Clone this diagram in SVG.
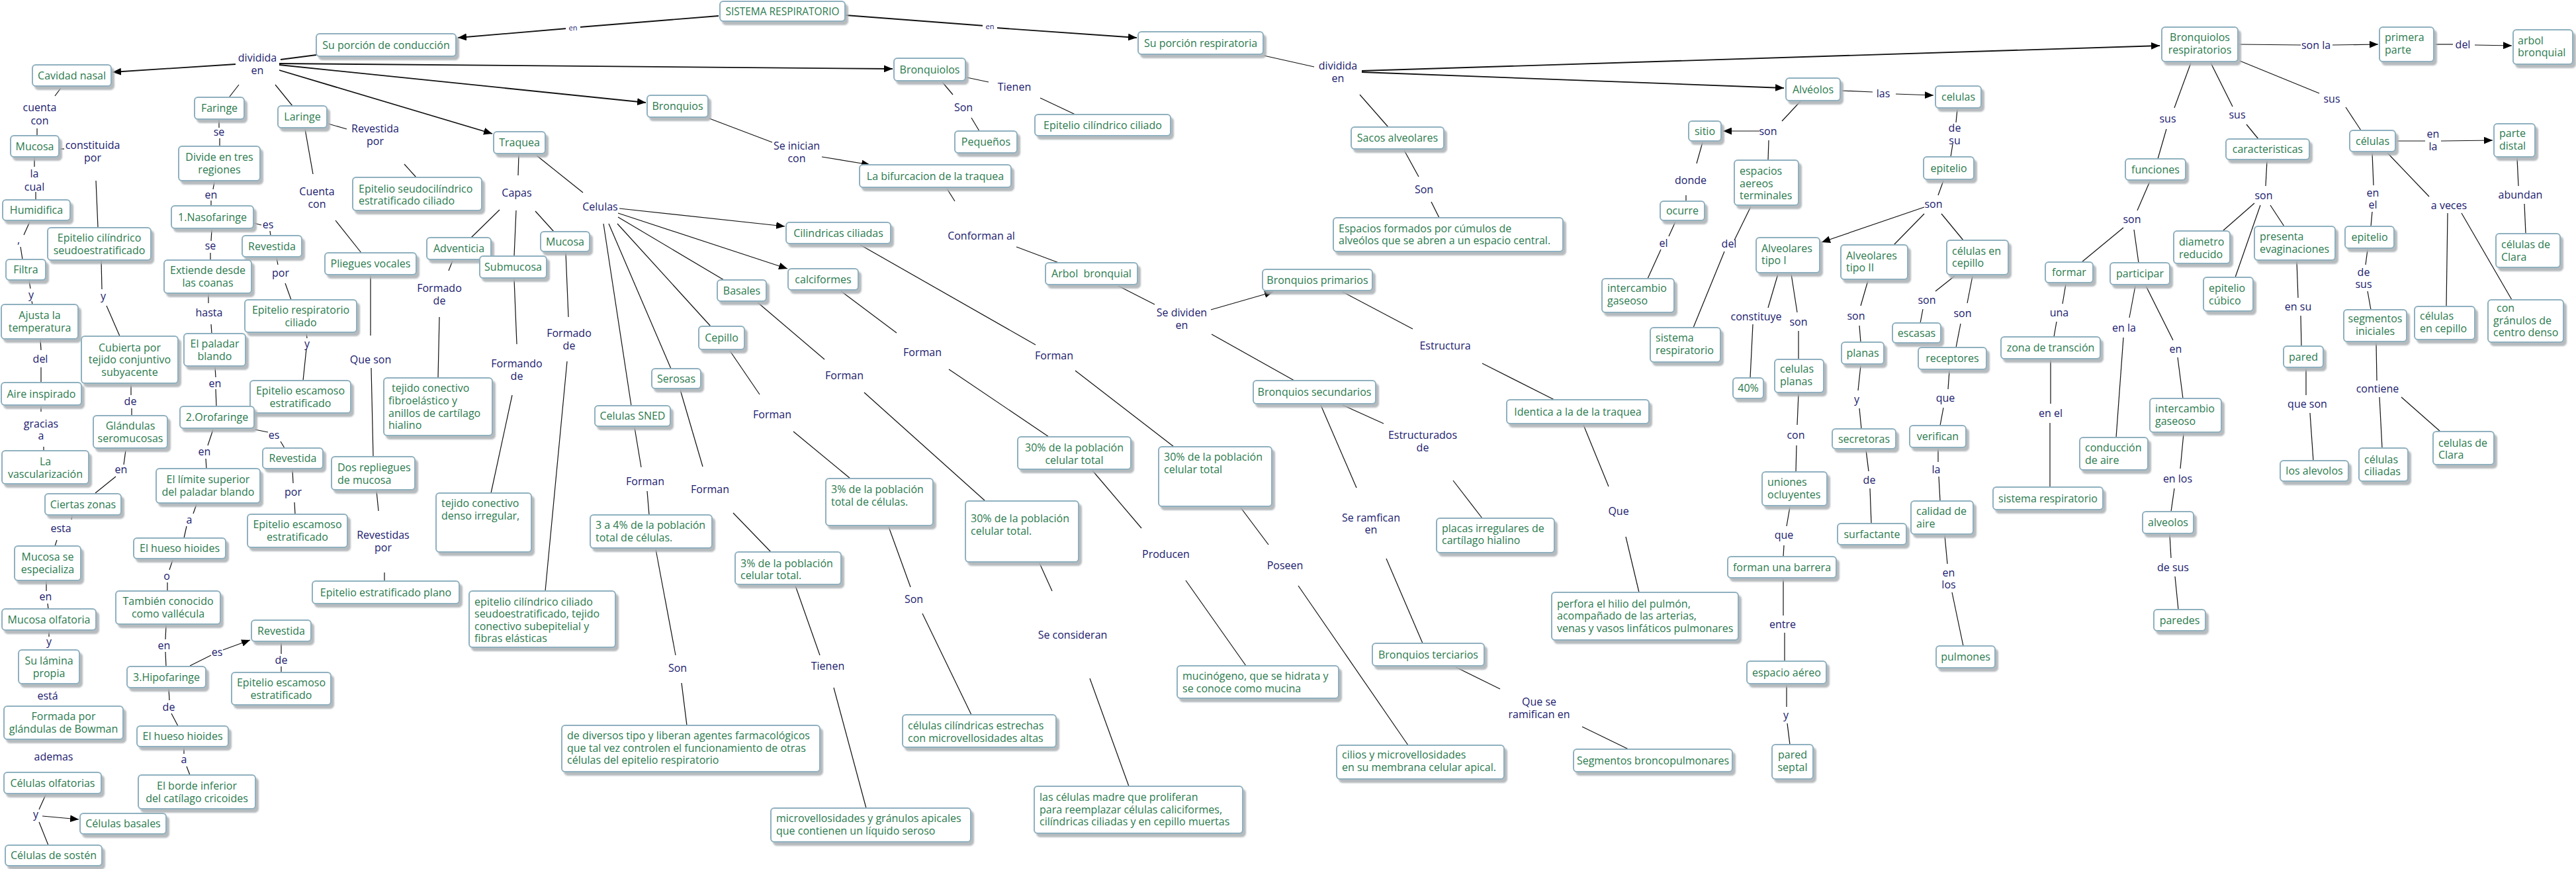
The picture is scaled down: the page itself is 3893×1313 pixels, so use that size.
<svg xmlns="http://www.w3.org/2000/svg" width="3893" height="1313" viewBox="0 0 3893 1313">
<defs>
<filter id="sh" x="-10%" y="-10%" width="130%" height="140%"><feDropShadow dx="4" dy="5" stdDeviation="1.2" flood-color="#aeb3b7" flood-opacity="0.9"/></filter>
<marker id="ar" viewBox="0 0 12 10" refX="12" refY="5" markerWidth="13" markerHeight="11" markerUnits="userSpaceOnUse" orient="auto"><path d="M0,0 L12,5 L0,10 z" fill="#000"/></marker>
</defs>
<style>
.b{fill:#fff;stroke:#8fb0bf;stroke-width:2;filter:url(#sh)}
.t{font-family:"Open Sans","Liberation Sans",sans-serif;font-size:16px;fill:#2b7a4e}
.c{text-anchor:middle}
.l{font-family:"Open Sans","Liberation Sans",sans-serif;font-size:16px;fill:#1a1a6e;text-anchor:middle}
.s{font-size:11px}
#edges line{stroke:#111;stroke-width:1.2;fill:none}
#edges line.a{marker-end:url(#ar)}
#edges line.w{stroke-width:1.8}
</style>
<rect width="3893" height="1313" fill="#fff"/>
<g id="edges">
<line class="w" x1="1086" y1="24" x2="876" y2="41"/><line class="a w" x1="857" y1="43" x2="692" y2="57"/>
<line class="w" x1="1278" y1="23" x2="1488" y2="39"/><line class="a w" x1="1505" y1="42" x2="1718" y2="57"/>
<line class="w" x1="478" y1="83" x2="424" y2="90"/>
<line class="a w" x1="356" y1="97" x2="170" y2="109"/>
<line class="a w" x1="422" y1="96" x2="1349" y2="104"/>
<line class="a w" x1="422" y1="98" x2="976" y2="155"/>
<line class="a w" x1="422" y1="106" x2="744" y2="202"/>
<line x1="361" y1="128" x2="347" y2="146"/><line x1="416" y1="128" x2="442" y2="160"/>
<line x1="92" y1="133" x2="83" y2="145"/><line x1="56" y1="194" x2="56" y2="205"/>
<line x1="89" y1="225" x2="97" y2="225"/><line x1="52" y1="238" x2="52" y2="252"/>
<line x1="54" y1="290" x2="54" y2="302"/><line x1="45" y1="335" x2="36" y2="355"/>
<line x1="31" y1="373" x2="34" y2="392"/><line x1="44" y1="424" x2="46" y2="436"/>
<line x1="48" y1="455" x2="49" y2="460"/><line x1="145" y1="273" x2="148" y2="344"/>
<line x1="153" y1="394" x2="154" y2="437"/><line x1="161" y1="462" x2="181" y2="508"/>
<line x1="61" y1="513" x2="62" y2="529"/><line x1="62" y1="555" x2="62" y2="577"/>
<line x1="62" y1="614" x2="62" y2="622"/><line x1="66" y1="675" x2="66" y2="681"/>
<line x1="198" y1="581" x2="198" y2="597"/><line x1="199" y1="617" x2="199" y2="627"/>
<line x1="190" y1="680" x2="187" y2="702"/><line x1="175" y1="720" x2="144" y2="745"/>
<line x1="109" y1="779" x2="108" y2="785"/><line x1="86" y1="816" x2="83" y2="825"/>
<line x1="70" y1="878" x2="70" y2="893"/><line x1="72" y1="912" x2="73" y2="920"/>
<line x1="74" y1="954" x2="74" y2="962"/><line x1="69" y1="1201" x2="59" y2="1223"/>
<line class="a" x1="64" y1="1233" x2="119" y2="1238"/><line x1="59" y1="1242" x2="73" y2="1277"/>
<line x1="331" y1="181" x2="331" y2="193"/><line x1="332" y1="209" x2="332" y2="221"/>
<line x1="324" y1="275" x2="322" y2="286"/><line x1="319" y1="303" x2="319" y2="311"/>
<line x1="383" y1="337" x2="395" y2="340"/><line x1="408" y1="349" x2="409" y2="356"/>
<line x1="320" y1="347" x2="319" y2="364"/><line x1="318" y1="382" x2="318" y2="393"/>
<line x1="418" y1="390" x2="420" y2="400"/><line x1="431" y1="428" x2="440" y2="453"/>
<line x1="315" y1="444" x2="315" y2="458"/><line x1="319" y1="490" x2="320" y2="504"/>
<line x1="463" y1="504" x2="464" y2="511"/><line x1="463" y1="527" x2="458" y2="575"/>
<line x1="325" y1="555" x2="326" y2="570"/><line x1="326" y1="588" x2="327" y2="614"/>
<line x1="385" y1="649" x2="405" y2="653"/><line x1="424" y1="667" x2="430" y2="677"/>
<line x1="322" y1="649" x2="314" y2="673"/><line x1="311" y1="693" x2="312" y2="708"/>
<line x1="442" y1="710" x2="443" y2="730"/><line x1="445" y1="759" x2="446" y2="777"/>
<line x1="297" y1="762" x2="292" y2="776"/><line x1="282" y1="795" x2="278" y2="813"/>
<line x1="261" y1="846" x2="256" y2="861"/><line x1="253" y1="880" x2="253" y2="893"/>
<line x1="251" y1="945" x2="250" y2="966"/><line x1="250" y1="985" x2="251" y2="1007"/>
<line x1="287" y1="1006" x2="319" y2="990"/><line class="a" x1="337" y1="982" x2="378" y2="967"/>
<line x1="425" y1="971" x2="425" y2="988"/><line x1="425" y1="1007" x2="425" y2="1016"/>
<line x1="255" y1="1041" x2="256" y2="1058"/><line x1="259" y1="1078" x2="269" y2="1097"/>
<line x1="278" y1="1130" x2="278" y2="1139"/><line x1="282" y1="1158" x2="287" y2="1171"/>
<line x1="496" y1="187" x2="524" y2="195"/><line x1="611" y1="248" x2="629" y2="268"/>
<line x1="461" y1="195" x2="473" y2="263"/><line x1="507" y1="333" x2="546" y2="382"/>
<line x1="560" y1="417" x2="560" y2="507"/><line x1="561" y1="556" x2="564" y2="690"/>
<line x1="569" y1="742" x2="572" y2="772"/><line x1="581" y1="865" x2="581" y2="878"/>
<line x1="784" y1="234" x2="783" y2="265"/><line x1="811" y1="235" x2="881" y2="291"/>
<line x1="755" y1="317" x2="712" y2="359"/><line x1="780" y1="318" x2="777" y2="387"/>
<line x1="809" y1="319" x2="837" y2="350"/><line x1="684" y1="394" x2="678" y2="409"/>
<line x1="664" y1="479" x2="662" y2="571"/><line x1="777" y1="422" x2="781" y2="520"/>
<line x1="774" y1="597" x2="742" y2="745"/><line x1="855" y1="382" x2="859" y2="479"/>
<line x1="857" y1="546" x2="824" y2="893"/>
<line class="a" x1="936" y1="315" x2="1186" y2="342"/><line class="a" x1="934" y1="322" x2="1190" y2="406"/>
<line x1="934" y1="328" x2="1094" y2="423"/><line x1="933" y1="338" x2="1074" y2="493"/>
<line x1="920" y1="338" x2="1014" y2="557"/><line x1="912" y1="338" x2="954" y2="613"/>
<line x1="1145" y1="457" x2="1246" y2="543"/><line x1="1306" y1="593" x2="1489" y2="757"/>
<line x1="1271" y1="440" x2="1355" y2="503"/><line x1="1434" y1="558" x2="1585" y2="660"/>
<line x1="1300" y1="370" x2="1565" y2="521"/><line x1="1625" y1="560" x2="1774" y2="675"/>
<line x1="1103" y1="530" x2="1148" y2="596"/><line x1="1199" y1="652" x2="1285" y2="723"/>
<line x1="1028" y1="589" x2="1062" y2="705"/><line x1="1108" y1="775" x2="1165" y2="834"/>
<line x1="959" y1="646" x2="969" y2="706"/><line x1="978" y1="742" x2="981" y2="778"/>
<line x1="991" y1="830" x2="1021" y2="990"/><line x1="1030" y1="1032" x2="1038" y2="1096"/>
<line x1="1202" y1="885" x2="1239" y2="990"/><line x1="1260" y1="1039" x2="1309" y2="1221"/>
<line x1="1343" y1="796" x2="1376" y2="887"/><line x1="1394" y1="927" x2="1468" y2="1080"/>
<line x1="1571" y1="851" x2="1590" y2="893"/><line x1="1647" y1="1025" x2="1706" y2="1188"/>
<line x1="1651" y1="711" x2="1725" y2="798"/><line x1="1792" y1="877" x2="1883" y2="1006"/>
<line x1="1875" y1="767" x2="1917" y2="823"/><line x1="1962" y1="885" x2="2128" y2="1126"/>
<line x1="1072" y1="179" x2="1167" y2="215"/><line class="a" x1="1242" y1="237" x2="1315" y2="249"/>
<line x1="1431" y1="285" x2="1443" y2="304"/><line x1="1536" y1="373" x2="1600" y2="397"/>
<line x1="1690" y1="432" x2="1745" y2="460"/><line class="a" x1="1830" y1="468" x2="1924" y2="441"/>
<line x1="1831" y1="505" x2="1956" y2="575"/>
<line x1="2029" y1="441" x2="2135" y2="497"/><line x1="2240" y1="549" x2="2349" y2="604"/>
<line x1="2393" y1="642" x2="2431" y2="735"/><line x1="2457" y1="811" x2="2477" y2="895"/>
<line x1="2029" y1="612" x2="2091" y2="640"/><line x1="2196" y1="726" x2="2240" y2="783"/>
<line x1="1996" y1="612" x2="2050" y2="737"/><line x1="2095" y1="844" x2="2150" y2="972"/>
<line x1="2200" y1="1008" x2="2267" y2="1041"/><line x1="2391" y1="1098" x2="2461" y2="1132"/>
<line x1="1461" y1="117" x2="1494" y2="124"/><line x1="1572" y1="148" x2="1625" y2="173"/>
<line x1="1424" y1="124" x2="1440" y2="143"/><line x1="1468" y1="178" x2="1480" y2="198"/>
<line x1="1910" y1="84" x2="1986" y2="101"/>
<line class="a w" x1="2058" y1="107" x2="3264" y2="69"/>
<line class="a w" x1="2058" y1="109" x2="2696" y2="133"/>
<line x1="2055" y1="143" x2="2098" y2="192"/><line x1="2122" y1="227" x2="2144" y2="267"/>
<line x1="2163" y1="305" x2="2175" y2="329"/>
<line x1="2783" y1="137" x2="2830" y2="139"/><line class="a" x1="2865" y1="142" x2="2922" y2="144"/>
<line x1="2721" y1="153" x2="2693" y2="183"/><line class="a" x1="2659" y1="198" x2="2604" y2="198"/>
<line x1="2673" y1="212" x2="2672" y2="242"/><line x1="2573" y1="215" x2="2564" y2="247"/>
<line x1="2548" y1="295" x2="2548" y2="304"/><line x1="2532" y1="335" x2="2522" y2="357"/>
<line x1="2510" y1="377" x2="2490" y2="421"/><line x1="2646" y1="312" x2="2621" y2="363"/>
<line x1="2606" y1="380" x2="2559" y2="495"/>
<line x1="2958" y1="165" x2="2956" y2="185"/><line x1="2951" y1="218" x2="2948" y2="237"/>
<line x1="2937" y1="273" x2="2929" y2="295"/><line class="a" x1="2908" y1="313" x2="2753" y2="366"/>
<line x1="2908" y1="323" x2="2862" y2="370"/><line x1="2934" y1="323" x2="2967" y2="363"/>
<line x1="2687" y1="414" x2="2672" y2="465"/><line x1="2649" y1="490" x2="2645" y2="571"/>
<line x1="2707" y1="414" x2="2716" y2="472"/><line x1="2718" y1="500" x2="2718" y2="543"/>
<line x1="2718" y1="595" x2="2716" y2="642"/><line x1="2715" y1="673" x2="2714" y2="713"/>
<line x1="2705" y1="766" x2="2700" y2="795"/><line x1="2696" y1="824" x2="2695" y2="841"/>
<line x1="2695" y1="875" x2="2695" y2="930"/><line x1="2697" y1="956" x2="2697" y2="999"/>
<line x1="2700" y1="1035" x2="2700" y2="1068"/><line x1="2701" y1="1093" x2="2705" y2="1125"/>
<line x1="2823" y1="424" x2="2812" y2="462"/><line x1="2810" y1="492" x2="2812" y2="517"/>
<line x1="2812" y1="552" x2="2808" y2="590"/><line x1="2810" y1="617" x2="2813" y2="648"/>
<line x1="2820" y1="680" x2="2824" y2="712"/><line x1="2826" y1="738" x2="2828" y2="791"/>
<line x1="2954" y1="417" x2="2925" y2="440"/><line x1="2906" y1="467" x2="2902" y2="488"/>
<line x1="2981" y1="417" x2="2973" y2="458"/><line x1="2963" y1="489" x2="2956" y2="525"/>
<line x1="2946" y1="560" x2="2944" y2="588"/><line x1="2937" y1="616" x2="2932" y2="643"/>
<line x1="2929" y1="678" x2="2929" y2="698"/><line x1="2930" y1="720" x2="2932" y2="757"/>
<line x1="2939" y1="809" x2="2943" y2="852"/><line x1="2950" y1="895" x2="2967" y2="976"/>
<line x1="3384" y1="67" x2="3477" y2="68"/><line class="a" x1="3525" y1="68" x2="3594" y2="67"/>
<line x1="3680" y1="67" x2="3707" y2="67"/><line class="a" x1="3740" y1="68" x2="3796" y2="69"/>
<line x1="3311" y1="95" x2="3286" y2="163"/><line x1="3274" y1="195" x2="3261" y2="240"/>
<line x1="3249" y1="274" x2="3230" y2="318"/><line x1="3209" y1="344" x2="3146" y2="396"/>
<line x1="3225" y1="347" x2="3232" y2="397"/><line x1="3122" y1="429" x2="3117" y2="459"/>
<line x1="3108" y1="486" x2="3104" y2="509"/><line x1="3099" y1="544" x2="3099" y2="610"/>
<line x1="3098" y1="639" x2="3098" y2="736"/><line x1="3227" y1="432" x2="3218" y2="480"/>
<line x1="3209" y1="510" x2="3198" y2="661"/><line x1="3243" y1="432" x2="3284" y2="514"/>
<line x1="3291" y1="540" x2="3299" y2="602"/><line x1="3300" y1="655" x2="3295" y2="708"/>
<line x1="3286" y1="738" x2="3281" y2="773"/><line x1="3279" y1="808" x2="3281" y2="843"/>
<line x1="3287" y1="871" x2="3292" y2="921"/>
<line x1="3341" y1="95" x2="3374" y2="161"/><line x1="3395" y1="188" x2="3413" y2="210"/>
<line x1="3426" y1="243" x2="3424" y2="281"/><line x1="3407" y1="307" x2="3359" y2="349"/>
<line x1="3416" y1="310" x2="3378" y2="419"/><line x1="3431" y1="310" x2="3452" y2="342"/>
<line x1="3471" y1="395" x2="3473" y2="450"/><line x1="3477" y1="477" x2="3478" y2="523"/>
<line x1="3485" y1="557" x2="3485" y2="597"/><line x1="3491" y1="624" x2="3496" y2="696"/>
<line x1="3385" y1="92" x2="3505" y2="141"/><line x1="3545" y1="162" x2="3568" y2="197"/>
<line x1="3622" y1="213" x2="3665" y2="213"/><line class="a" x1="3689" y1="213" x2="3767" y2="212"/>
<line x1="3804" y1="239" x2="3806" y2="281"/><line x1="3815" y1="308" x2="3817" y2="353"/>
<line x1="3585" y1="231" x2="3587" y2="280"/><line x1="3585" y1="320" x2="3583" y2="342"/>
<line x1="3578" y1="377" x2="3575" y2="400"/><line x1="3578" y1="440" x2="3583" y2="468"/>
<line x1="3591" y1="518" x2="3592" y2="575"/><line x1="3596" y1="600" x2="3600" y2="677"/>
<line x1="3629" y1="600" x2="3688" y2="652"/>
<line x1="3608" y1="231" x2="3671" y2="297"/><line x1="3699" y1="322" x2="3697" y2="463"/>
<line x1="3720" y1="322" x2="3796" y2="453"/>
</g>
<g id="links">
<rect x="855" y="34" width="22" height="14" fill="#fff"/><text class="l s" x="866" y="46">en</text>
<rect x="1485" y="33" width="22" height="14" fill="#fff"/><text class="l s" x="1496" y="44">en</text>
<text class="l" x="389" y="92.5">dividida<tspan x="389" y="111.5">en</tspan></text>
<text class="l" x="2022" y="104.5">dividida<tspan x="2022" y="123.5">en</tspan></text>
<text class="l" x="60" y="167.5">cuenta<tspan x="60" y="187.5">con</tspan></text>
<text class="l" x="140" y="224.5">constituida<tspan x="140" y="243.5">por</tspan></text>
<text class="l" x="52" y="267.5">la<tspan x="52" y="287.5">cual</tspan></text>
<text class="l" x="28" y="368">,</text>
<text class="l" x="47" y="450.5">y</text>
<text class="l" x="156" y="452.5">y</text>
<text class="l" x="61" y="547.5">del</text>
<text class="l" x="62" y="645.5">gracias<tspan x="62" y="663.5">a</tspan></text>
<text class="l" x="197" y="611.5">de</text>
<text class="l" x="183" y="714.5">en</text>
<text class="l" x="92" y="803.5">esta</text>
<text class="l" x="69" y="906.5">en</text>
<text class="l" x="74" y="974.5">y</text>
<text class="l" x="72" y="1056.5">está</text>
<text class="l" x="81" y="1148.5">ademas</text>
<text class="l" x="54" y="1235.5">y</text>
<text class="l" x="331" y="204.5">se</text>
<text class="l" x="319" y="299.5">en</text>
<text class="l" x="405" y="344.5">es</text>
<text class="l" x="318" y="376.5">se</text>
<text class="l" x="424" y="417.5">por</text>
<text class="l" x="316" y="477.5">hasta</text>
<text class="l" x="464" y="524.5">y</text>
<text class="l" x="325" y="584.5">en</text>
<text class="l" x="414" y="662.5">es</text>
<text class="l" x="309" y="687.5">en</text>
<text class="l" x="443" y="748.5">por</text>
<text class="l" x="286" y="790.5">a</text>
<text class="l" x="252" y="875.5">o</text>
<text class="l" x="248" y="980.5">en</text>
<text class="l" x="328" y="990.5">es</text>
<text class="l" x="425" y="1002.5">de</text>
<text class="l" x="255" y="1073.5">de</text>
<text class="l" x="278" y="1152.5">a</text>
<text class="l" x="567" y="199.5">Revestida<tspan x="567" y="218.5">por</tspan></text>
<text class="l" x="479" y="294.5">Cuenta<tspan x="479" y="313.5">con</tspan></text>
<text class="l" x="560" y="548.5">Que son</text>
<text class="l" x="579" y="813.5">Revestidas<tspan x="579" y="832.5">por</tspan></text>
<text class="l" x="781" y="296.5">Capas</text>
<text class="l" x="907" y="317.5">Celulas</text>
<text class="l" x="664" y="440.5">Formado<tspan x="664" y="459.5">de</tspan></text>
<text class="l" x="781" y="554.5">Formando<tspan x="781" y="573.5">de</tspan></text>
<text class="l" x="860" y="508.5">Formado<tspan x="860" y="527.5">de</tspan></text>
<text class="l" x="975" y="732.5">Forman</text>
<text class="l" x="1073" y="744.5">Forman</text>
<text class="l" x="1167" y="631.5">Forman</text>
<text class="l" x="1276" y="572.5">Forman</text>
<text class="l" x="1394" y="537.5">Forman</text>
<text class="l" x="1593" y="542.5">Forman</text>
<text class="l" x="1024" y="1014.5">Son</text>
<text class="l" x="1251" y="1011.5">Tienen</text>
<text class="l" x="1381" y="910.5">Son</text>
<text class="l" x="1621" y="964.5">Se consideran</text>
<text class="l" x="1762" y="842.5">Producen</text>
<text class="l" x="1942" y="859.5">Poseen</text>
<text class="l" x="1533" y="136.5">Tienen</text>
<text class="l" x="1456" y="167.5">Son</text>
<text class="l" x="1204" y="225.5">Se inician<tspan x="1204" y="244.5">con</tspan></text>
<text class="l" x="1483" y="361.5">Conforman al</text>
<text class="l" x="1786" y="477.5">Se dividen<tspan x="1786" y="496.5">en</tspan></text>
<text class="l" x="2184" y="527.5">Estructura</text>
<text class="l" x="2150" y="662.5">Estructurados<tspan x="2150" y="681.5">de</tspan></text>
<text class="l" x="2072" y="787.5">Se ramfican<tspan x="2072" y="805.5">en</tspan></text>
<text class="l" x="2446" y="777.5">Que</text>
<text class="l" x="2326" y="1065.5">Que se<tspan x="2326" y="1084.5">ramifican en</tspan></text>
<text class="l" x="2152" y="291.5">Son</text>
<text class="l" x="2846" y="146.5">las</text>
<text class="l" x="2672" y="203.5">son</text>
<text class="l" x="2555" y="277.5">donde</text>
<text class="l" x="2514" y="372.5">el</text>
<text class="l" x="2613" y="373.5">del</text>
<text class="l" x="2954" y="198.5">de<tspan x="2954" y="217.5">su</tspan></text>
<text class="l" x="2922" y="313.5">son</text>
<text class="l" x="2654" y="483.5">constituye</text>
<text class="l" x="2718" y="491.5">son</text>
<text class="l" x="2714" y="662.5">con</text>
<text class="l" x="2696" y="813.5">que</text>
<text class="l" x="2694" y="948.5">entre</text>
<text class="l" x="2699" y="1085.5">y</text>
<text class="l" x="2805" y="482.5">son</text>
<text class="l" x="2806" y="608.5">y</text>
<text class="l" x="2825" y="730.5">de</text>
<text class="l" x="2912" y="458.5">son</text>
<text class="l" x="2966" y="478.5">son</text>
<text class="l" x="2940" y="606.5">que</text>
<text class="l" x="2926" y="714.5">la</text>
<text class="l" x="2945" y="870.5">en<tspan x="2945" y="888.5">los</tspan></text>
<text class="l" x="3500" y="73.5">son la</text>
<text class="l" x="3722" y="72.5">del</text>
<text class="l" x="3276" y="184.5">sus</text>
<text class="l" x="3381" y="178.5">sus</text>
<text class="l" x="3524" y="154.5">sus</text>
<text class="l" x="3222" y="336.5">son</text>
<text class="l" x="3421" y="300.5">son</text>
<text class="l" x="3677" y="207.5">en<tspan x="3677" y="226.5">la</tspan></text>
<text class="l" x="3809" y="299.5">abundan</text>
<text class="l" x="3586" y="296.5">en<tspan x="3586" y="314.5">el</tspan></text>
<text class="l" x="3701" y="315.5">a veces</text>
<text class="l" x="3572" y="416.5">de<tspan x="3572" y="434.5">sus</tspan></text>
<text class="l" x="3112" y="477.5">una</text>
<text class="l" x="3099" y="629.5">en el</text>
<text class="l" x="3210" y="500.5">en la</text>
<text class="l" x="3288" y="532.5">en</text>
<text class="l" x="3291" y="728.5">en los</text>
<text class="l" x="3284" y="862.5">de sus</text>
<text class="l" x="3473" y="468.5">en su</text>
<text class="l" x="3487" y="615.5">que son</text>
<text class="l" x="3593" y="592.5">contiene</text>
</g>
<g id="n01"><rect class="b" x="1088" y="2" width="189" height="30" rx="5"/><text class="t c" x="1182.5" y="22.5" textLength="172" lengthAdjust="spacingAndGlyphs">SISTEMA RESPIRATORIO</text></g>
<g id="n02"><rect class="b" x="478" y="51" width="211" height="34" rx="5"/><text class="t c" x="583.5" y="73.5">Su porción de conducción</text></g>
<g id="n03"><rect class="b" x="1720" y="48" width="189" height="34" rx="5"/><text class="t c" x="1814.5" y="70.5">Su porción respiratoria</text></g>
<g id="n04"><rect class="b" x="49" y="98" width="119" height="32" rx="5"/><text class="t c" x="108.5" y="119.5">Cavidad nasal</text></g>
<g id="n05"><rect class="b" x="294" y="147" width="75" height="33" rx="5"/><text class="t c" x="331.5" y="169">Faringe</text></g>
<g id="n06"><rect class="b" x="420" y="160" width="74" height="33" rx="5"/><text class="t c" x="457" y="182">Laringe</text></g>
<g id="n07"><rect class="b" x="746" y="199" width="78" height="33" rx="5"/><text class="t c" x="785" y="221">Traquea</text></g>
<g id="n08"><rect class="b" x="978" y="144" width="92" height="33" rx="5"/><text class="t c" x="1024" y="166">Bronquios</text></g>
<g id="n09"><rect class="b" x="1351" y="88" width="108" height="34" rx="5"/><text class="t c" x="1405" y="110.5">Bronquiolos</text></g>
<g id="n10"><rect class="b" x="16" y="205" width="73" height="32" rx="5"/><text class="t c" x="52.5" y="226.5">Mucosa</text></g>
<g id="n11"><rect class="b" x="4" y="302" width="102" height="31" rx="5"/><text class="t c" x="55" y="323">Humidifica</text></g>
<g id="n12"><rect class="b" x="9" y="392" width="60" height="31" rx="5"/><text class="t c" x="39" y="413">Filtra</text></g>
<g id="n13"><rect class="b" x="72" y="344" width="156" height="49" rx="5"/><text class="t c" x="150" y="365">Epitelio cilíndrico<tspan x="150" y="384">seudoestratificado</tspan></text></g>
<g id="n14"><rect class="b" x="2" y="460" width="116" height="52" rx="5"/><text class="t c" x="60" y="481.5">Ajusta la<tspan x="60" y="500.5">temperatura</tspan></text></g>
<g id="n15"><rect class="b" x="123" y="508" width="146" height="71" rx="5"/><text class="t c" x="196" y="530.5">Cubierta por<tspan x="196" y="549">tejido conjuntivo</tspan><tspan x="196" y="567.5">subyacente</tspan></text></g>
<g id="n16"><rect class="b" x="2" y="578" width="121" height="34" rx="5"/><text class="t c" x="62.5" y="600.5">Aire inspirado</text></g>
<g id="n17"><rect class="b" x="3" y="681" width="131" height="50" rx="5"/><text class="t c" x="68.5" y="702.5">La<tspan x="68.5" y="721.5">vascularización</tspan></text></g>
<g id="n18"><rect class="b" x="141" y="628" width="112" height="49" rx="5"/><text class="t c" x="197" y="648.5">Glándulas<tspan x="197" y="667.5">seromucosas</tspan></text></g>
<g id="n19"><rect class="b" x="68" y="746" width="115" height="32" rx="5"/><text class="t c" x="125.5" y="767.5">Ciertas zonas</text></g>
<g id="n20"><rect class="b" x="22" y="825" width="100" height="52" rx="5"/><text class="t c" x="72" y="847">Mucosa se<tspan x="72" y="866">especializa</tspan></text></g>
<g id="n21"><rect class="b" x="3" y="920" width="142" height="32" rx="5"/><text class="t c" x="74" y="941.5">Mucosa olfatoria</text></g>
<g id="n22"><rect class="b" x="28" y="982" width="92" height="51" rx="5"/><text class="t c" x="74" y="1003.5">Su lámina<tspan x="74" y="1022.5">propia</tspan></text></g>
<g id="n23"><rect class="b" x="6" y="1067" width="180" height="50" rx="5"/><text class="t c" x="96" y="1088">Formada por<tspan x="96" y="1107">glándulas de Bowman</tspan></text></g>
<g id="n24"><rect class="b" x="6" y="1167" width="147" height="32" rx="5"/><text class="t c" x="79.5" y="1188.5">Células olfatorias</text></g>
<g id="n25"><rect class="b" x="121" y="1229" width="130" height="31" rx="5"/><text class="t c" x="186" y="1250">Células basales</text></g>
<g id="n26"><rect class="b" x="8" y="1277" width="146" height="31" rx="5"/><text class="t c" x="81" y="1298">Células de sostén</text></g>
<g id="n27"><rect class="b" x="270" y="221" width="123" height="52" rx="5"/><text class="t c" x="331.5" y="242.5">Divide en tres<tspan x="331.5" y="261.5">regiones</tspan></text></g>
<g id="n28"><rect class="b" x="259" y="311" width="124" height="34" rx="5"/><text class="t c" x="321" y="333.5">1.Nasofaringe</text></g>
<g id="n29"><rect class="b" x="366" y="356" width="90" height="32" rx="5"/><text class="t c" x="411" y="377.5">Revestida</text></g>
<g id="n30"><rect class="b" x="248" y="393" width="132" height="50" rx="5"/><text class="t c" x="314" y="414">Extiende desde<tspan x="314" y="433">las coanas</tspan></text></g>
<g id="n31"><rect class="b" x="370" y="453" width="169" height="49" rx="5"/><text class="t c" x="454.5" y="473.5">Epitelio respiratorio<tspan x="454.5" y="492.5">ciliado</tspan></text></g>
<g id="n32"><rect class="b" x="278" y="504" width="93" height="49" rx="5"/><text class="t c" x="324.5" y="524.5">El paladar<tspan x="324.5" y="543.5">blando</tspan></text></g>
<g id="n33"><rect class="b" x="378" y="575" width="152" height="49" rx="5"/><text class="t c" x="454" y="595.5">Epitelio escamoso<tspan x="454" y="614.5">estratificado</tspan></text></g>
<g id="n34"><rect class="b" x="272" y="614" width="112" height="33" rx="5"/><text class="t c" x="328" y="636">2.Orofaringe</text></g>
<g id="n35"><rect class="b" x="397" y="677" width="91" height="31" rx="5"/><text class="t c" x="442.5" y="698">Revestida</text></g>
<g id="n36"><rect class="b" x="236" y="708" width="157" height="52" rx="5"/><text class="t c" x="314.5" y="730">El límite superior<tspan x="314.5" y="749">del paladar blando</tspan></text></g>
<g id="n37"><rect class="b" x="374" y="777" width="151" height="50" rx="5"/><text class="t c" x="449.5" y="798">Epitelio escamoso<tspan x="449.5" y="817">estratificado</tspan></text></g>
<g id="n38"><rect class="b" x="202" y="813" width="139" height="31" rx="5"/><text class="t c" x="271.5" y="834">El hueso hioides</text></g>
<g id="n39"><rect class="b" x="175" y="893" width="158" height="50" rx="5"/><text class="t c" x="254" y="914">También conocido<tspan x="254" y="933">como vallécula</tspan></text></g>
<g id="n40"><rect class="b" x="380" y="937" width="90" height="32" rx="5"/><text class="t c" x="425" y="958.5">Revestida</text></g>
<g id="n41"><rect class="b" x="192" y="1007" width="119" height="32" rx="5"/><text class="t c" x="251.5" y="1028.5">3.Hipofaringe</text></g>
<g id="n42"><rect class="b" x="350" y="1016" width="150" height="49" rx="5"/><text class="t c" x="425" y="1036.5">Epitelio escamoso<tspan x="425" y="1055.5">estratificado</tspan></text></g>
<g id="n43"><rect class="b" x="207" y="1097" width="138" height="31" rx="5"/><text class="t c" x="276" y="1118">El hueso hioides</text></g>
<g id="n44"><rect class="b" x="209" y="1171" width="177" height="51" rx="5"/><text class="t c" x="297.5" y="1192.5">El borde inferior<tspan x="297.5" y="1211.5">del catílago cricoides</tspan></text></g>
<g id="n45"><rect class="b" x="533" y="268" width="195" height="50" rx="5"/><text class="t" x="542" y="290.5">Epitelio seudocilíndrico<tspan x="542" y="309">estratificado ciliado</tspan></text></g>
<g id="n46"><rect class="b" x="491" y="382" width="138" height="33" rx="5"/><text class="t c" x="560" y="404">Pliegues vocales</text></g>
<g id="n47"><rect class="b" x="501" y="690" width="126" height="50" rx="5"/><text class="t" x="510" y="712">Dos repliegues<tspan x="510" y="730.5">de mucosa</tspan></text></g>
<g id="n48"><rect class="b" x="472" y="878" width="222" height="34" rx="5"/><text class="t c" x="583" y="900.5">Epitelio estratificado plano</text></g>
<g id="n49"><rect class="b" x="645" y="359" width="97" height="33" rx="5"/><text class="t c" x="693.5" y="381">Adventicia</text></g>
<g id="n50"><rect class="b" x="725" y="387" width="101" height="33" rx="5"/><text class="t c" x="775.5" y="409">Submucosa</text></g>
<g id="n51"><rect class="b" x="817" y="350" width="74" height="30" rx="5"/><text class="t c" x="854" y="370.5">Mucosa</text></g>
<g id="n52"><rect class="b" x="580" y="571" width="164" height="87" rx="5"/><text class="t" x="592" y="592">tejido conectivo<tspan x="587" y="611">fibroelástico y</tspan><tspan x="587" y="629.5">anillos de cartílago</tspan><tspan x="587" y="648">hialino</tspan></text></g>
<g id="n53"><rect class="b" x="659" y="745" width="144" height="89" rx="5"/><text class="t" x="667" y="766">tejido conectivo<tspan x="667" y="785">denso irregular,</tspan></text></g>
<g id="n54"><rect class="b" x="709" y="893" width="221" height="85" rx="5"/><text class="t" x="717" y="914.5">epitelio cilíndrico ciliado<tspan x="717" y="933">seudoestratificado,  tejido</tspan><tspan x="717" y="951.5">conectivo subepitelial y</tspan><tspan x="717" y="970">fibras elásticas</tspan></text></g>
<g id="n55"><rect class="b" x="1188" y="336" width="158" height="32" rx="5"/><text class="t c" x="1267" y="357.5">Cilindricas ciliadas</text></g>
<g id="n56"><rect class="b" x="1191" y="406" width="106" height="32" rx="5"/><text class="t c" x="1244" y="427.5">calciformes</text></g>
<g id="n57"><rect class="b" x="1084" y="423" width="74" height="32" rx="5"/><text class="t c" x="1121" y="444.5">Basales</text></g>
<g id="n58"><rect class="b" x="1056" y="493" width="69" height="35" rx="5"/><text class="t c" x="1090.5" y="516">Cepillo</text></g>
<g id="n59"><rect class="b" x="985" y="557" width="74" height="30" rx="5"/><text class="t c" x="1022" y="577.5">Serosas</text></g>
<g id="n60"><rect class="b" x="899" y="613" width="114" height="31" rx="5"/><text class="t c" x="956" y="634">Celulas SNED</text></g>
<g id="n61"><rect class="b" x="892" y="778" width="184" height="50" rx="5"/><text class="t" x="900" y="799">3 a 4% de la población<tspan x="900" y="818">total de células.</tspan></text></g>
<g id="n62"><rect class="b" x="1111" y="834" width="160" height="49" rx="5"/><text class="t" x="1119" y="856.5">3% de la población<tspan x="1119" y="875">celular total.</tspan></text></g>
<g id="n63"><rect class="b" x="1248" y="723" width="162" height="71" rx="5"/><text class="t" x="1256" y="745">3% de la población<tspan x="1256" y="764">total de células.</tspan></text></g>
<g id="n64"><rect class="b" x="1459" y="757" width="171" height="92" rx="5"/><text class="t" x="1467" y="789">30% de la población<tspan x="1467" y="808">celular total.</tspan></text></g>
<g id="n65"><rect class="b" x="1538" y="660" width="171" height="49" rx="5"/><text class="t c" x="1623.5" y="682">30% de la población<tspan x="1623.5" y="701">celular total</tspan></text></g>
<g id="n66"><rect class="b" x="1751" y="675" width="171" height="90" rx="5"/><text class="t" x="1759" y="696">30% de la población<tspan x="1759" y="715">celular total</tspan></text></g>
<g id="n67"><rect class="b" x="849" y="1096" width="390" height="70" rx="5"/><text class="t" x="857" y="1117">de diversos tipo y liberan agentes farmacológicos<tspan x="857" y="1135.5">que tal vez controlen el funcionamiento de otras</tspan><tspan x="857" y="1154">células del epitelio respiratorio</tspan></text></g>
<g id="n68"><rect class="b" x="1165" y="1221" width="302" height="51" rx="5"/><text class="t" x="1173" y="1242">microvellosidades y gránulos apicales<tspan x="1173" y="1261">que contienen un líquido seroso</tspan></text></g>
<g id="n69"><rect class="b" x="1364" y="1080" width="232" height="49" rx="5"/><text class="t" x="1372" y="1102">células cilíndricas estrechas<tspan x="1372" y="1120.5">con microvellosidades altas</tspan></text></g>
<g id="n70"><rect class="b" x="1563" y="1188" width="315" height="71" rx="5"/><text class="t" x="1571" y="1209.5">las células madre que proliferan<tspan x="1571" y="1228.5">para reemplazar  células caliciformes,</tspan><tspan x="1571" y="1247">cilíndricas ciliadas y en  cepillo muertas</tspan></text></g>
<g id="n71"><rect class="b" x="1779" y="1006" width="244" height="49" rx="5"/><text class="t" x="1787" y="1027">mucinógeno, que se hidrata y<tspan x="1787" y="1046">se conoce como mucina</tspan></text></g>
<g id="n72"><rect class="b" x="1443" y="198" width="94" height="33" rx="5"/><text class="t c" x="1490" y="220">Pequeños</text></g>
<g id="n73"><rect class="b" x="1564" y="173" width="205" height="32" rx="5"/><text class="t c" x="1666.5" y="194.5">Epitelio cilíndrico ciliado</text></g>
<g id="n74"><rect class="b" x="1299" y="249" width="229" height="34" rx="5"/><text class="t c" x="1413.5" y="271.5">La bifurcacion de la traquea</text></g>
<g id="n75"><rect class="b" x="1580" y="397" width="139" height="33" rx="5"/><text class="t c" x="1649.5" y="419">Arbol&#160; bronquial</text></g>
<g id="n76"><rect class="b" x="1908" y="407" width="166" height="32" rx="5"/><text class="t c" x="1991" y="428.5">Bronquios primarios</text></g>
<g id="n77"><rect class="b" x="1894" y="575" width="185" height="35" rx="5"/><text class="t c" x="1986.5" y="598">Bronquios secundarios</text></g>
<g id="n78"><rect class="b" x="2277" y="604" width="215" height="36" rx="5"/><text class="t c" x="2384.5" y="627.5">Identica a la de la traquea</text></g>
<g id="n79"><rect class="b" x="2171" y="783" width="178" height="52" rx="5"/><text class="t" x="2179" y="804">placas irregulares de<tspan x="2179" y="822">cartílago hialino</tspan></text></g>
<g id="n80"><rect class="b" x="2345" y="895" width="282" height="72" rx="5"/><text class="t" x="2353" y="918">perfora el hilio del pulmón,<tspan x="2353" y="936">acompañado de las arterias,</tspan><tspan x="2353" y="954.5">venas y vasos linfáticos pulmonares</tspan></text></g>
<g id="n81"><rect class="b" x="2074" y="972" width="169" height="34" rx="5"/><text class="t c" x="2158.5" y="994.5">Bronquios terciarios</text></g>
<g id="n82"><rect class="b" x="2020" y="1126" width="253" height="51" rx="5"/><text class="t" x="2028" y="1146">cilios y microvellosidades<tspan x="2028" y="1165">en su membrana celular apical.</tspan></text></g>
<g id="n83"><rect class="b" x="2378" y="1132" width="240" height="34" rx="5"/><text class="t c" x="2498" y="1154.5">Segmentos broncopulmonares</text></g>
<g id="n84"><rect class="b" x="2042" y="192" width="140" height="33" rx="5"/><text class="t c" x="2112" y="214">Sacos alveolares</text></g>
<g id="n85"><rect class="b" x="2015" y="329" width="347" height="51" rx="5"/><text class="t" x="2023" y="350.5">Espacios formados por cúmulos de<tspan x="2023" y="369">alveólos que se abren a un espacio central.</tspan></text></g>
<g id="n86"><rect class="b" x="2699" y="118" width="82" height="34" rx="5"/><text class="t c" x="2740" y="140.5">Alvéolos</text></g>
<g id="n87"><rect class="b" x="2925" y="130" width="69" height="33" rx="5"/><text class="t c" x="2959.5" y="152">celulas</text></g>
<g id="n88"><rect class="b" x="2552" y="183" width="49" height="30" rx="5"/><text class="t c" x="2576.5" y="203.5">sitio</text></g>
<g id="n89"><rect class="b" x="2621" y="242" width="97" height="68" rx="5"/><text class="t" x="2629" y="264">espacios<tspan x="2629" y="283">aereos</tspan><tspan x="2629" y="301">terminales</tspan></text></g>
<g id="n90"><rect class="b" x="2509" y="304" width="67" height="29" rx="5"/><text class="t c" x="2542.5" y="324">ocurre</text></g>
<g id="n91"><rect class="b" x="2421" y="421" width="109" height="51" rx="5"/><text class="t" x="2429" y="440.5">intercambio<tspan x="2429" y="460">gaseoso</tspan></text></g>
<g id="n92"><rect class="b" x="2494" y="495" width="106" height="52" rx="5"/><text class="t" x="2502" y="516">sistema<tspan x="2502" y="534.5">respiratorio</tspan></text></g>
<g id="n93"><rect class="b" x="2907" y="237" width="76" height="34" rx="5"/><text class="t c" x="2945" y="259.5">epitelio</text></g>
<g id="n94"><rect class="b" x="2654" y="359" width="96" height="53" rx="5"/><text class="t" x="2662" y="380.5">Alveolares<tspan x="2662" y="399">tipo I</tspan></text></g>
<g id="n95"><rect class="b" x="2782" y="370" width="101" height="52" rx="5"/><text class="t" x="2790" y="391.5">Alveolares<tspan x="2790" y="410">tipo II</tspan></text></g>
<g id="n96"><rect class="b" x="2942" y="363" width="93" height="52" rx="5"/><text class="t" x="2950" y="384.5">células en<tspan x="2950" y="403">cepillo</tspan></text></g>
<g id="n97"><rect class="b" x="2619" y="571" width="46" height="31" rx="5"/><text class="t c" x="2642" y="592">40%</text></g>
<g id="n98"><rect class="b" x="2682" y="543" width="74" height="50" rx="5"/><text class="t" x="2690" y="563">celulas<tspan x="2690" y="582">planas</tspan></text></g>
<g id="n99"><rect class="b" x="2663" y="713" width="98" height="51" rx="5"/><text class="t" x="2671" y="734">uniones<tspan x="2671" y="753">ocluyentes</tspan></text></g>
<g id="n100"><rect class="b" x="2611" y="841" width="164" height="32" rx="5"/><text class="t c" x="2693" y="862.5">forman una barrera</text></g>
<g id="n101"><rect class="b" x="2640" y="999" width="120" height="34" rx="5"/><text class="t c" x="2700" y="1021.5">espacio aéreo</text></g>
<g id="n102"><rect class="b" x="2678" y="1125" width="62" height="52" rx="5"/><text class="t c" x="2709" y="1146">pared<tspan x="2709" y="1165">septal</tspan></text></g>
<g id="n103"><rect class="b" x="2783" y="517" width="64" height="33" rx="5"/><text class="t c" x="2815" y="539">planas</text></g>
<g id="n104"><rect class="b" x="2769" y="648" width="96" height="30" rx="5"/><text class="t c" x="2817" y="668.5">secretoras</text></g>
<g id="n105"><rect class="b" x="2777" y="791" width="104" height="32" rx="5"/><text class="t c" x="2829" y="812.5">surfactante</text></g>
<g id="n106"><rect class="b" x="2860" y="488" width="73" height="30" rx="5"/><text class="t c" x="2896.5" y="508.5">escasas</text></g>
<g id="n107"><rect class="b" x="2899" y="525" width="103" height="33" rx="5"/><text class="t c" x="2950.5" y="547">receptores</text></g>
<g id="n108"><rect class="b" x="2886" y="643" width="85" height="33" rx="5"/><text class="t c" x="2928.5" y="665">verifican</text></g>
<g id="n109"><rect class="b" x="2888" y="757" width="94" height="50" rx="5"/><text class="t" x="2896" y="778">calidad de<tspan x="2896" y="796.5">aire</tspan></text></g>
<g id="n110"><rect class="b" x="2926" y="976" width="89" height="33" rx="5"/><text class="t c" x="2970.5" y="998">pulmones</text></g>
<g id="n111"><rect class="b" x="3267" y="41" width="115" height="52" rx="5"/><text class="t c" x="3324.5" y="62">Bronquiolos<tspan x="3324.5" y="80.5">respiratorios</tspan></text></g>
<g id="n112"><rect class="b" x="3596" y="41" width="82" height="52" rx="5"/><text class="t" x="3604" y="62">primera<tspan x="3604" y="80.5">parte</tspan></text></g>
<g id="n113"><rect class="b" x="3798" y="45" width="90" height="52" rx="5"/><text class="t" x="3805" y="66.5">arbol<tspan x="3805" y="85">bronquial</tspan></text></g>
<g id="n114"><rect class="b" x="3212" y="240" width="91" height="32" rx="5"/><text class="t c" x="3257.5" y="261.5">funciones</text></g>
<g id="n115"><rect class="b" x="3364" y="210" width="126" height="31" rx="5"/><text class="t c" x="3427" y="231">caracteristicas</text></g>
<g id="n116"><rect class="b" x="3551" y="197" width="69" height="32" rx="5"/><text class="t c" x="3585.5" y="218.5">células</text></g>
<g id="n117"><rect class="b" x="3769" y="187" width="62" height="50" rx="5"/><text class="t" x="3777" y="207">parte<tspan x="3777" y="225.5">distal</tspan></text></g>
<g id="n118"><rect class="b" x="3772" y="353" width="97" height="51" rx="5"/><text class="t" x="3780" y="375">células de<tspan x="3780" y="394">Clara</tspan></text></g>
<g id="n119"><rect class="b" x="3091" y="396" width="72" height="31" rx="5"/><text class="t c" x="3127" y="417">formar</text></g>
<g id="n120"><rect class="b" x="3189" y="397" width="90" height="33" rx="5"/><text class="t c" x="3234" y="419">participar</text></g>
<g id="n121"><rect class="b" x="3285" y="349" width="85" height="49" rx="5"/><text class="t" x="3293" y="371">diametro<tspan x="3293" y="390">reducido</tspan></text></g>
<g id="n122"><rect class="b" x="3407" y="342" width="122" height="51" rx="5"/><text class="t" x="3415" y="363">presenta<tspan x="3415" y="382">evaginaciones</tspan></text></g>
<g id="n123"><rect class="b" x="3330" y="419" width="75" height="51" rx="5"/><text class="t" x="3338" y="441">epitelio<tspan x="3338" y="460">cúbico</tspan></text></g>
<g id="n124"><rect class="b" x="3544" y="342" width="74" height="33" rx="5"/><text class="t c" x="3581" y="364">epitelio</text></g>
<g id="n125"><rect class="b" x="3024" y="509" width="150" height="33" rx="5"/><text class="t c" x="3099" y="531">zona de transción</text></g>
<g id="n126"><rect class="b" x="3143" y="661" width="103" height="49" rx="5"/><text class="t" x="3151" y="682">conducción<tspan x="3151" y="701">de aire</tspan></text></g>
<g id="n127"><rect class="b" x="3249" y="602" width="108" height="51" rx="5"/><text class="t" x="3257" y="623">intercambio<tspan x="3257" y="642">gaseoso</tspan></text></g>
<g id="n128"><rect class="b" x="3012" y="736" width="166" height="34" rx="5"/><text class="t c" x="3095" y="758.5">sistema respiratorio</text></g>
<g id="n129"><rect class="b" x="3238" y="773" width="77" height="33" rx="5"/><text class="t c" x="3276.5" y="795">alveolos</text></g>
<g id="n130"><rect class="b" x="3255" y="921" width="78" height="32" rx="5"/><text class="t c" x="3294" y="942.5">paredes</text></g>
<g id="n131"><rect class="b" x="3451" y="523" width="60" height="32" rx="5"/><text class="t c" x="3481" y="544.5">pared</text></g>
<g id="n132"><rect class="b" x="3446" y="696" width="103" height="31" rx="5"/><text class="t c" x="3497.5" y="717">los alevolos</text></g>
<g id="n133"><rect class="b" x="3542" y="468" width="95" height="48" rx="5"/><text class="t c" x="3589.5" y="487">segmentos<tspan x="3589.5" y="505.5">iniciales</tspan></text></g>
<g id="n134"><rect class="b" x="3649" y="463" width="91" height="50" rx="5"/><text class="t" x="3657" y="483">células<tspan x="3657" y="501.5">en cepillo</tspan></text></g>
<g id="n135"><rect class="b" x="3760" y="453" width="114" height="64" rx="5"/><text class="t" x="3773" y="471">con<tspan x="3768" y="489.5">gránulos de</tspan><tspan x="3768" y="508">centro denso</tspan></text></g>
<g id="n136"><rect class="b" x="3565" y="677" width="74" height="50" rx="5"/><text class="t" x="3573" y="699.5">células<tspan x="3573" y="718">ciliadas</tspan></text></g>
<g id="n137"><rect class="b" x="3677" y="652" width="92" height="50" rx="5"/><text class="t" x="3685" y="674.5">celulas de<tspan x="3685" y="693">Clara</tspan></text></g>
</svg>
